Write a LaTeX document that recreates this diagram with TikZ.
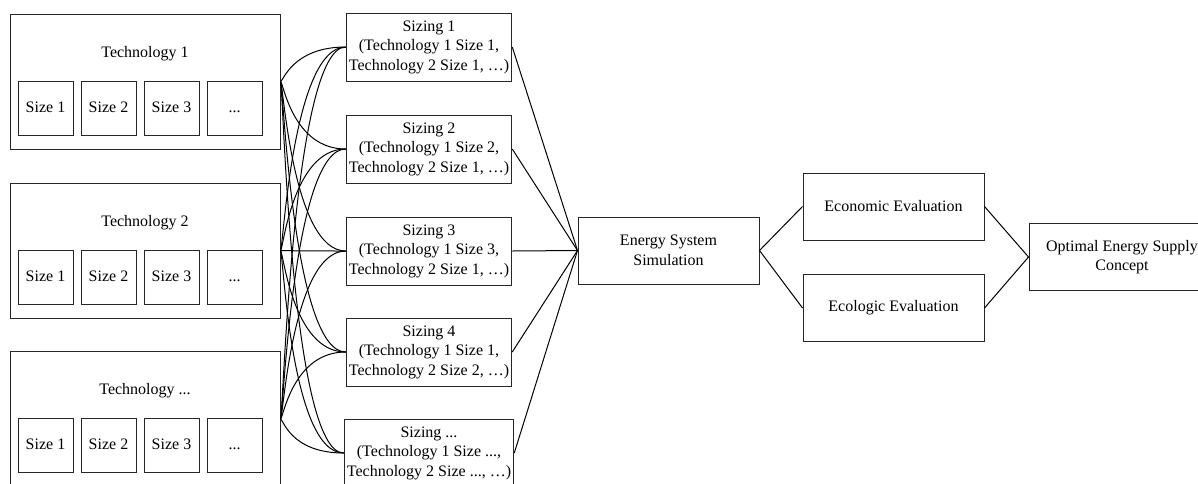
\documentclass[tikz,border=0pt]{standalone}
\usepackage{fontspec}
\setmainfont{Liberation Serif}
\usepackage{tikz}

\newcommand{\tdots}{...}

\tikzset{
  box/.style={draw=black!85, line width=0.75pt, inner sep=2pt, align=center},
  techbox/.style={box, minimum width=202.5pt, minimum height=101.25pt},
  sizebox/.style={box, minimum width=41.25pt, minimum height=40.5pt, text height=8.5pt, text depth=2.5pt},
  sizingbox/.style={box, minimum width=114pt, minimum height=51pt},
  stepbox/.style={box, minimum width=135.75pt, minimum height=50.25pt},
  link/.style={draw=black, line width=0.75pt},
  curvy/.style={to path={.. controls ([xshift=2pt]\tikztostart) and ([xshift=-40pt]\tikztotarget) .. (\tikztotarget)}}
}

\begin{document}
\begin{tikzpicture}[x=0.75pt, y=-0.75pt, font=\fontsize{12}{14.6}\selectfont]
  \useasboundingbox (0,0) rectangle (1198,483);

  % technologies with their sizes
  \foreach \n/\y/\name in {1/81.5/1, 2/250.5/2, 3/419/\tdots} {
    \node[techbox] (t\n) at (145,\y) {};
    \node (t\n lab) at (145,\y-28) {Technology \name};
    \foreach \i/\lab in {0/Size 1, 1/Size 2, 2/Size 3, 3/\tdots}
      \node[sizebox] (t\n s\i) at (45.5+63*\i,\y+26.5) {\lab};
  }

  % sizings
  \node[sizingbox] (s1) at (429,47)  {Sizing 1\\(Technology 1 Size 1,\\Technology 2 Size 1, …)};
  \node[sizingbox] (s2) at (429,149) {Sizing 2\\(Technology 1 Size 2,\\Technology 2 Size 1, …)};
  \node[sizingbox] (s3) at (429,251) {Sizing 3\\(Technology 1 Size 3,\\Technology 2 Size 1, …)};
  \node[sizingbox] (s4) at (429,352) {Sizing 4\\(Technology 1 Size 1,\\Technology 2 Size 2, …)};
  \node[sizingbox] (s5) at (429,453) {Sizing \tdots\\(Technology 1 Size \tdots,\\Technology 2 Size \tdots, …)};

  % evaluation chain
  \node[stepbox] (sim) at (668.5,250.5) {Energy System\\Simulation};
  \node[stepbox] (eco) at (893.5,206.5) {Economic Evaluation};
  \node[stepbox] (ecl) at (893.5,308)   {Ecologic Evaluation};
  \node[stepbox, minimum width=139.5pt] (opt) at (1122,257) {Optimal Energy Supply\\Concept};

  % connectors
  \foreach \n in {1,2,3}
    \foreach \s in {1,...,5}
      \draw[link] (t\n.east) to[curvy] (s\s.west);
  \foreach \s in {1,...,5}
    \draw[link] (s\s.east) -- (sim.west);
  \draw[link] (sim.east) -- (eco.west);
  \draw[link] (sim.east) -- (ecl.west);
  \draw[link] (eco.east) -- (opt.west);
  \draw[link] (ecl.east) -- (opt.west);
\end{tikzpicture}
\end{document}
